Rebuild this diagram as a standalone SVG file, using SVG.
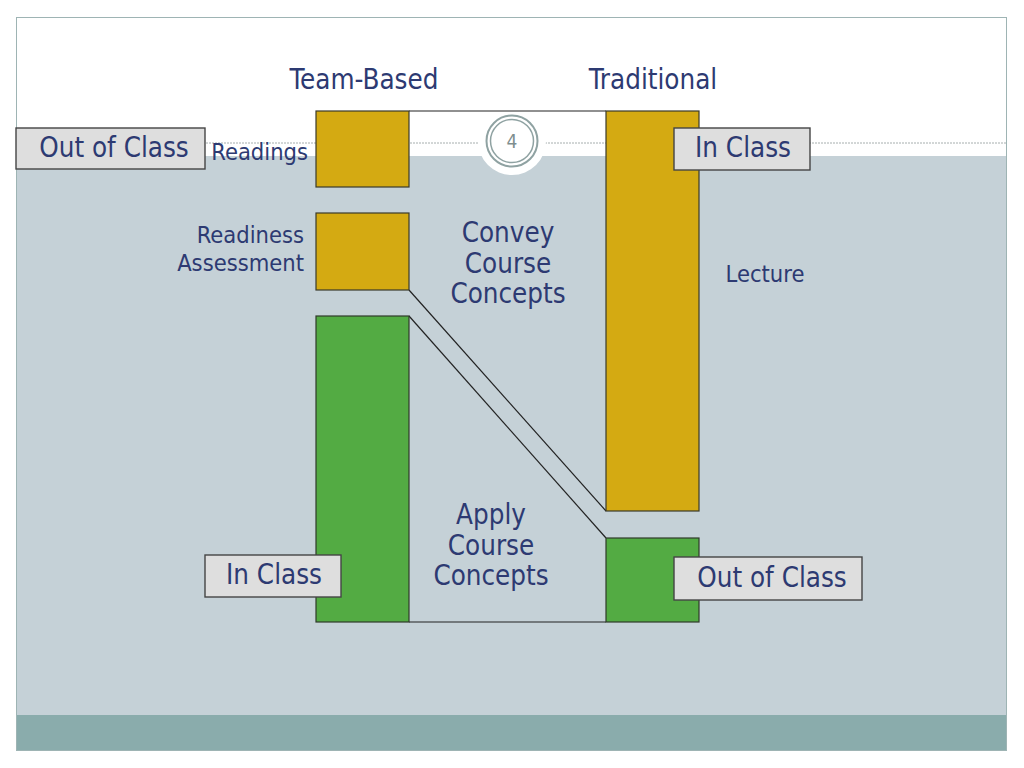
<svg xmlns="http://www.w3.org/2000/svg" width="1024" height="768" viewBox="0 0 1024 768">
<style>
text{font-family:"DejaVu Sans Condensed","DejaVu Sans",sans-serif;fill:#2D3A72}
.gold{fill:#D4AA12;stroke:#3A3A2A;stroke-width:1.2}
.green{fill:#53AB43;stroke:#2F3A2A;stroke-width:1.2}
.lbl{fill:#DEDEDE;stroke:#454545;stroke-width:1.4}
.ln{stroke:#222;stroke-width:1.2;fill:none}
.t26{font-size:27.5px}
.t22{font-size:23.5px}
.mid{text-anchor:middle}
.end{text-anchor:end}
</style>
<rect x="0" y="0" width="1024" height="768" fill="#FFFFFF"/>
<g id="background">
<rect x="16.5" y="17.5" width="990" height="733" fill="#FFFFFF" stroke="#9EB4B4" stroke-width="1"/>
<rect x="17" y="156" width="989" height="559" fill="#C5D1D7"/>
<rect x="17" y="715" width="989" height="35" fill="#8AACAC"/>
<line x1="17" y1="143" x2="1006" y2="143" stroke="#A6AEAE" stroke-width="1" stroke-dasharray="2,1"/>
<circle cx="512" cy="141" r="34" fill="#FFFFFF"/>
</g>
<g id="slide-number">
<circle cx="512" cy="141" r="25.5" fill="none" stroke="#8FA2A2" stroke-width="2"/>
<circle cx="512" cy="141" r="21.5" fill="none" stroke="#8FA2A2" stroke-width="1.5"/>
<text x="512" y="148" class="mid" style="font-size:19px;fill:#7E8E8E">4</text>
</g>
<g id="connectors">
<line class="ln" x1="409" y1="111" x2="606" y2="111"/>
<line class="ln" x1="409" y1="622" x2="606" y2="622"/>
<line class="ln" x1="409" y1="290" x2="606" y2="511"/>
<line class="ln" x1="409" y1="316" x2="606" y2="538"/>
</g>
<g id="readings">
<rect class="gold" x="316" y="111" width="93" height="76"/>
<text x="308" y="160" class="t22 end">Readings</text>
</g>
<g id="readiness-assessment">
<rect class="gold" x="316" y="213" width="93" height="77"/>
<text x="304" y="243" class="t22 end">Readiness</text>
<text x="304" y="271" class="t22 end">Assessment</text>
</g>
<g id="team-in-class-bar">
<rect class="green" x="316" y="316" width="93" height="306"/>
</g>
<g id="lecture">
<rect class="gold" x="606" y="111" width="93" height="400"/>
<text x="765" y="282" class="t22 mid">Lecture</text>
</g>
<g id="traditional-out-of-class-bar">
<rect class="green" x="606" y="538" width="93" height="84"/>
</g>
<g id="headers">
<text x="364" y="89" class="t26 mid">Team-Based</text>
<text x="653" y="89" class="t26 mid">Traditional</text>
<text x="508" y="242" class="t26 mid">Convey</text>
<text x="508" y="273" class="t26 mid">Course</text>
<text x="508" y="303" class="t26 mid">Concepts</text>
<text x="491" y="524" class="t26 mid">Apply</text>
<text x="491" y="555" class="t26 mid">Course</text>
<text x="491" y="585" class="t26 mid">Concepts</text>
</g>
<g id="label-out-of-class-left">
<rect class="lbl" x="16" y="128" width="189" height="41"/>
<text x="114" y="157" class="t26 mid">Out of Class</text>
</g>
<g id="label-in-class-right">
<rect class="lbl" x="674" y="128" width="136" height="42"/>
<text x="743" y="157" class="t26 mid">In Class</text>
</g>
<g id="label-in-class-left">
<rect class="lbl" x="205" y="555" width="136" height="42"/>
<text x="274" y="584" class="t26 mid">In Class</text>
</g>
<g id="label-out-of-class-right">
<rect class="lbl" x="674" y="557" width="188" height="43"/>
<text x="772" y="587" class="t26 mid">Out of Class</text>
</g>
</svg>
